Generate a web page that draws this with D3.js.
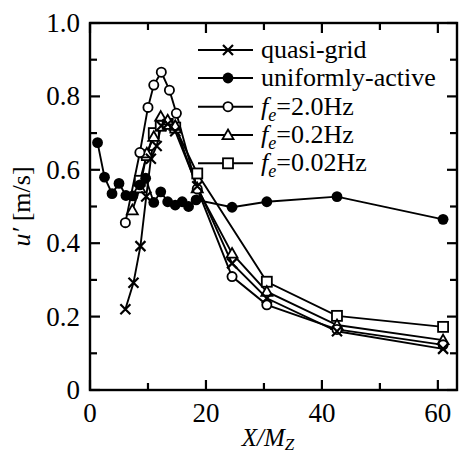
<!DOCTYPE html>
<html><head><meta charset="utf-8">
<script src="https://cdn.jsdelivr.net/npm/d3@7"></script>
<style>body{margin:0;background:#fff}svg{display:block}
svg text{font-family:"Liberation Serif","Noto Serif","Nimbus Roman","FreeSerif","Tinos","Times New Roman","Times","DejaVu Serif",serif;}
</style>
</head><body>
<svg id="c" width="460" height="455"></svg>
<script>
// ---- data ----
const quasiX = [6.1, 7.5, 8.7, 9.7, 10.5, 11.5, 12.3, 13.4, 14.7, 18.5, 24.5, 30.5, 42.6, 60.9];
const quasiY = [0.22, 0.292, 0.392, 0.527, 0.63, 0.665, 0.72, 0.725, 0.705, 0.555, 0.345, 0.25, 0.16, 0.112];

const uniX = [1.3, 2.5, 3.8, 5.0, 6.2, 7.4, 8.6, 9.6, 11.0, 12.2, 13.4, 14.7, 15.9, 17.0, 18.3, 24.5, 30.5, 42.6, 60.9];
const uniY = [0.674, 0.58, 0.535, 0.563, 0.53, 0.529, 0.559, 0.577, 0.511, 0.54, 0.513, 0.504, 0.513, 0.5, 0.518, 0.498, 0.513, 0.527, 0.465];

const f20X = [6.1, 8.6, 10.0, 11.0, 12.3, 13.7, 14.9, 18.5, 24.5, 30.5, 42.6, 60.9];
const f20Y = [0.456, 0.647, 0.77, 0.831, 0.866, 0.817, 0.754, 0.548, 0.309, 0.232, 0.165, 0.123];

const f02X = [7.3, 8.6, 9.8, 11.0, 12.2, 13.4, 14.7, 18.5, 24.5, 30.5, 42.6, 60.9];
const f02Y = [0.49, 0.55, 0.645, 0.69, 0.745, 0.735, 0.72, 0.55, 0.372, 0.268, 0.177, 0.136];

const f002X = [8.6, 9.8, 11.0, 12.2, 13.4, 14.7, 18.5, 30.5, 42.6, 60.9];
const f002Y = [0.57, 0.64, 0.7, 0.72, 0.725, 0.715, 0.59, 0.295, 0.202, 0.172];

const seriesNames = ["quasi-grid", "uniformly-active", "2.0Hz", "0.2Hz", "0.02Hz"];
const seriesMarkers = ["cross", "filled", "circle", "triangle", "square"];

const xMajor = [0, 20, 40, 60];
const xMinor = [10, 30, 50];
const yMajor = [0, 0.2, 0.4, 0.6, 0.8, 1.0];
const yMinor = [0.1, 0.3, 0.5, 0.7, 0.9];
const yTickLabels = ["0", "0.2", "0.4", "0.6", "0.8", "1.0"];

// ---- drawing ----
const svg = d3.select("#c");
const L = 90, R = 457, T = 23, B = 390;
const x = d3.scaleLinear().domain([0, 63.3]).range([L, R]);
const y = d3.scaleLinear().domain([0, 1]).range([B, T]);

const series = [
  {xs: quasiX, ys: quasiY},
  {xs: uniX, ys: uniY},
  {xs: f20X, ys: f20Y},
  {xs: f02X, ys: f02Y},
  {xs: f002X, ys: f002Y}
].map((s, i) => ({pts: s.xs.map((v, j) => [v, s.ys[j]]), name: seriesNames[i], marker: seriesMarkers[i]}));

function drawMarker(g, type, cx, cy) {
  if (type === "cross") {
    const s = 5;
    g.append("path").attr("d", `M${cx-s},${cy-s}L${cx+s},${cy+s}M${cx-s},${cy+s}L${cx+s},${cy-s}`)
      .attr("stroke", "#000").attr("stroke-width", 2.2).attr("fill", "none");
  } else if (type === "filled") {
    g.append("circle").attr("cx", cx).attr("cy", cy).attr("r", 5.4).attr("fill", "#000");
  } else if (type === "circle") {
    g.append("circle").attr("cx", cx).attr("cy", cy).attr("r", 4.6).attr("fill", "#fff")
      .attr("stroke", "#000").attr("stroke-width", 1.8);
  } else if (type === "triangle") {
    const s = 5.5;
    g.append("path").attr("d", `M${cx},${cy-s}L${cx+s},${cy+s*0.75}L${cx-s},${cy+s*0.75}Z`)
      .attr("fill", "#fff").attr("stroke", "#000").attr("stroke-width", 1.8);
  } else if (type === "square") {
    const s = 5;
    g.append("rect").attr("x", cx-s).attr("y", cy-s).attr("width", 2*s).attr("height", 2*s)
      .attr("fill", "#fff").attr("stroke", "#000").attr("stroke-width", 1.8);
  }
}

const line = d3.line().x(d => x(d[0])).y(d => y(d[1]));
const gData = svg.append("g");
series.forEach(s => {
  gData.append("path").datum(s.pts).attr("d", line).attr("fill", "none")
    .attr("stroke", "#000").attr("stroke-width", 1.9);
});
[4, 3, 2, 1, 0].forEach(i => {
  const s = series[i];
  s.pts.forEach(p => drawMarker(gData, s.marker, x(p[0]), y(p[1])));
});

// frame
svg.append("rect").attr("x", L).attr("y", T).attr("width", R - L).attr("height", B - T)
  .attr("fill", "none").attr("stroke", "#000").attr("stroke-width", 2.4);

// ticks (inward, mirrored)
const gt = svg.append("g").attr("stroke", "#000").attr("stroke-width", 2.2);
xMajor.forEach(v => {
  gt.append("line").attr("x1", x(v)).attr("x2", x(v)).attr("y1", B).attr("y2", B - 10);
  gt.append("line").attr("x1", x(v)).attr("x2", x(v)).attr("y1", T).attr("y2", T + 10);
});
xMinor.forEach(v => {
  gt.append("line").attr("x1", x(v)).attr("x2", x(v)).attr("y1", B).attr("y2", B - 7);
  gt.append("line").attr("x1", x(v)).attr("x2", x(v)).attr("y1", T).attr("y2", T + 7);
});
yMajor.forEach(v => {
  gt.append("line").attr("x1", L).attr("x2", L + 10).attr("y1", y(v)).attr("y2", y(v));
  gt.append("line").attr("x1", R).attr("x2", R - 10).attr("y1", y(v)).attr("y2", y(v));
});
yMinor.forEach(v => {
  gt.append("line").attr("x1", L).attr("x2", L + 7).attr("y1", y(v)).attr("y2", y(v));
  gt.append("line").attr("x1", R).attr("x2", R - 7).attr("y1", y(v)).attr("y2", y(v));
});

// tick labels
const gl = svg.append("g").attr("font-size", 27).attr("fill", "#000");
yMajor.forEach((v, i) => {
  gl.append("text").attr("x", 80).attr("y", y(v) + 9).attr("text-anchor", "end").text(yTickLabels[i]);
});
xMajor.forEach(v => {
  gl.append("text").attr("x", x(v)).attr("y", 422).attr("text-anchor", "middle").text(String(v));
});

// axis titles
const xt = svg.append("text").attr("font-size", 25).attr("font-style", "italic")
  .attr("x", 268).attr("y", 446).attr("text-anchor", "middle");
xt.append("tspan").text("X/M");
xt.append("tspan").attr("font-size", 17).attr("dy", 4).text("Z");

const yt = svg.append("text").attr("font-size", 26)
  .attr("transform", `translate(30,${(T + B) / 2}) rotate(-90)`).attr("text-anchor", "middle");
yt.append("tspan").attr("font-style", "italic").text("u′");
yt.append("tspan").text(" [m/s]");

// legend
const legY = [50, 78, 106.7, 135, 163.3];
const gLeg = svg.append("g");
series.forEach((s, i) => {
  const ly = legY[i];
  gLeg.append("line").attr("x1", 198).attr("x2", 253).attr("y1", ly).attr("y2", ly)
    .attr("stroke", "#000").attr("stroke-width", 1.9);
  drawMarker(gLeg, s.marker, 228, ly);
  const t = gLeg.append("text").attr("font-size", 26)
    .attr("x", 261).attr("y", ly + 8);
  if (i >= 2) {
    t.append("tspan").attr("font-style", "italic").text("f");
    t.append("tspan").attr("font-style", "italic").attr("font-size", 18).attr("dy", 6).text("e");
    t.append("tspan").attr("dy", -6).text("=" + s.name);
  } else {
    t.text(s.name);
  }
});
</script>
</body></html>
